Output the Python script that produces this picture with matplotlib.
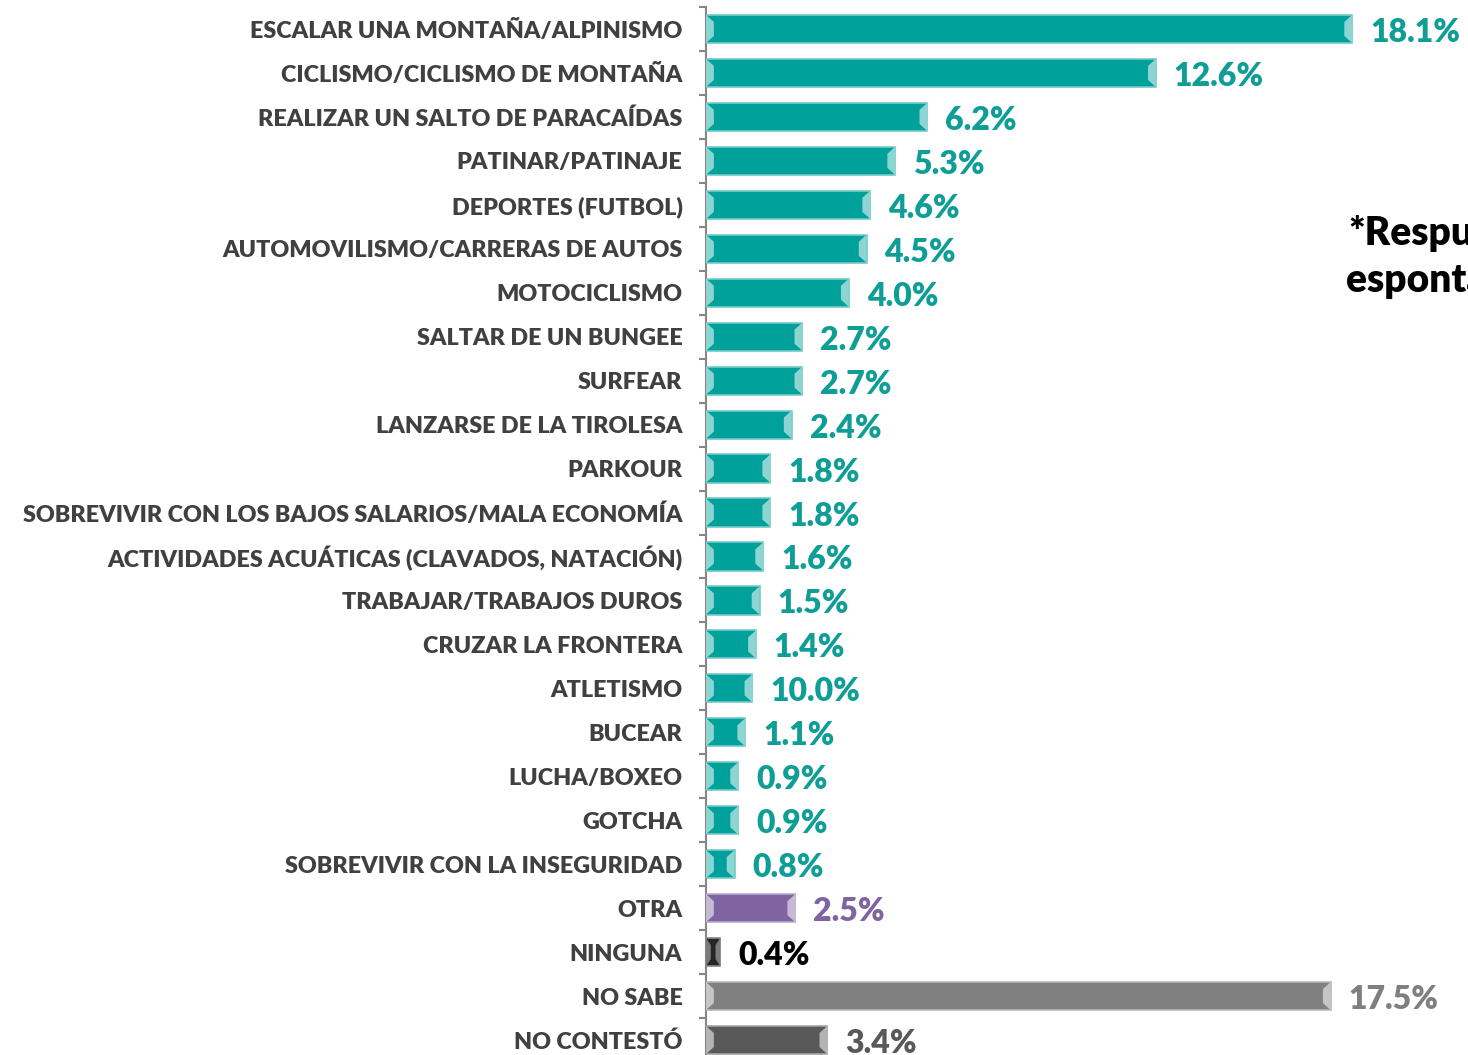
import matplotlib
matplotlib.use('Agg')
import matplotlib.pyplot as plt
import numpy as np
from matplotlib.patches import Polygon
from matplotlib.colors import to_rgb

categories = ['ESCALAR UNA MONTAÑA/ALPINISMO', 'CICLISMO/CICLISMO DE MONTAÑA',
              'REALIZAR UN SALTO DE PARACAÍDAS', 'PATINAR/PATINAJE', 'DEPORTES (FUTBOL)',
              'AUTOMOVILISMO/CARRERAS DE AUTOS', 'MOTOCICLISMO', 'SALTAR DE UN BUNGEE',
              'SURFEAR', 'LANZARSE DE LA TIROLESA', 'PARKOUR',
              'SOBREVIVIR CON LOS BAJOS SALARIOS/MALA ECONOMÍA',
              'ACTIVIDADES ACUÁTICAS (CLAVADOS, NATACIÓN)', 'TRABAJAR/TRABAJOS DUROS',
              'CRUZAR LA FRONTERA', 'ATLETISMO', 'BUCEAR', 'LUCHA/BOXEO', 'GOTCHA',
              'SOBREVIVIR CON LA INSEGURIDAD', 'OTRA', 'NINGUNA', 'NO SABE', 'NO CONTESTÓ']
values = [18.1, 12.6, 6.2, 5.3, 4.6, 4.5, 4.0, 2.7, 2.7, 2.4, 1.8, 1.8, 1.6, 1.5, 1.4,
          1.3, 1.1, 0.9, 0.9, 0.8, 2.5, 0.4, 17.5, 3.4]
# labels as printed in the original (ATLETISMO reads 10.0% there)
value_labels = ['18.1%', '12.6%', '6.2%', '5.3%', '4.6%', '4.5%', '4.0%', '2.7%', '2.7%',
                '2.4%', '1.8%', '1.8%', '1.6%', '1.5%', '1.4%', '10.0%', '1.1%', '0.9%',
                '0.9%', '0.8%', '2.5%', '0.4%', '17.5%', '3.4%']

teal = '#00A19A'
bar_colors = [teal] * 20 + ['#8064A2', '#262626', '#808080', '#595959']
label_colors = ['#0E9E96'] * 20 + ['#8064A2', '#000000', '#7F7F7F', '#595959']


def lighten(c, f):
    r, g, b = to_rgb(c)
    return (r + (1 - r) * f, g + (1 - g) * f, b + (1 - b) * f)


fig = plt.figure(figsize=(14.68, 10.55), dpi=100)
fig.patch.set_facecolor('white')

ax = fig.add_axes([706 / 1468, -7 / 1055, 762 / 1468, 1055 / 1055])
ax.patch.set_alpha(0)

y = np.arange(len(categories))
h = 0.64
ax.barh(y, values, height=h, color=bar_colors,
        edgecolor=[lighten(c, 0.45) for c in bar_colors], linewidth=1.2, zorder=3)

# bevelled ends
e = 0.22
for yi, v, c in zip(y, values, bar_colors):
    lc = lighten(c, 0.55) if c != '#262626' else '#7a7a7a'
    ew = min(e, v / 3)
    ax.add_patch(Polygon([(0, yi - h / 2), (ew, yi - h / 4), (ew, yi + h / 4), (0, yi + h / 2)],
                         closed=True, color=lc, zorder=4, lw=0))
    ax.add_patch(Polygon([(v, yi - h / 2), (v - ew, yi - h / 4), (v - ew, yi + h / 4), (v, yi + h / 2)],
                         closed=True, color=lc, zorder=4, lw=0))

for yi, v, t, c in zip(y, values, value_labels, label_colors):
    ax.text(v + 0.5, yi + 0.08, t, color=c, fontsize=23, fontweight='heavy',
            va='center', ha='left', family='Lato', zorder=5)

ax.set_xlim(0, 762 / 35.7)
ax.set_ylim(len(categories) - 0.5, -0.5)

ax.set_yticks(y)
ax.set_yticklabels(categories, fontsize=16.8, fontweight='heavy', color='#404040', family='Lato')
ax.tick_params(axis='y', which='major', length=0, pad=17)
ax.set_yticks(np.arange(-0.5, len(categories), 1), minor=True)
ax.tick_params(axis='y', which='minor', length=5, width=1.5, color='#868686', direction='out')
ax.set_xticks([])
for s in ['top', 'right', 'bottom']:
    ax.spines[s].set_visible(False)
ax.spines['left'].set_color('#868686')
ax.spines['left'].set_linewidth(1.5)

fig.text(1448 / 1468, 1 - 257 / 1055, '*Respuesta\nespontánea', fontsize=28, fontweight='heavy',
         color='black', ha='center', va='center', linespacing=1.35, family='Lato')

fig.savefig('out.png', dpi=100)
